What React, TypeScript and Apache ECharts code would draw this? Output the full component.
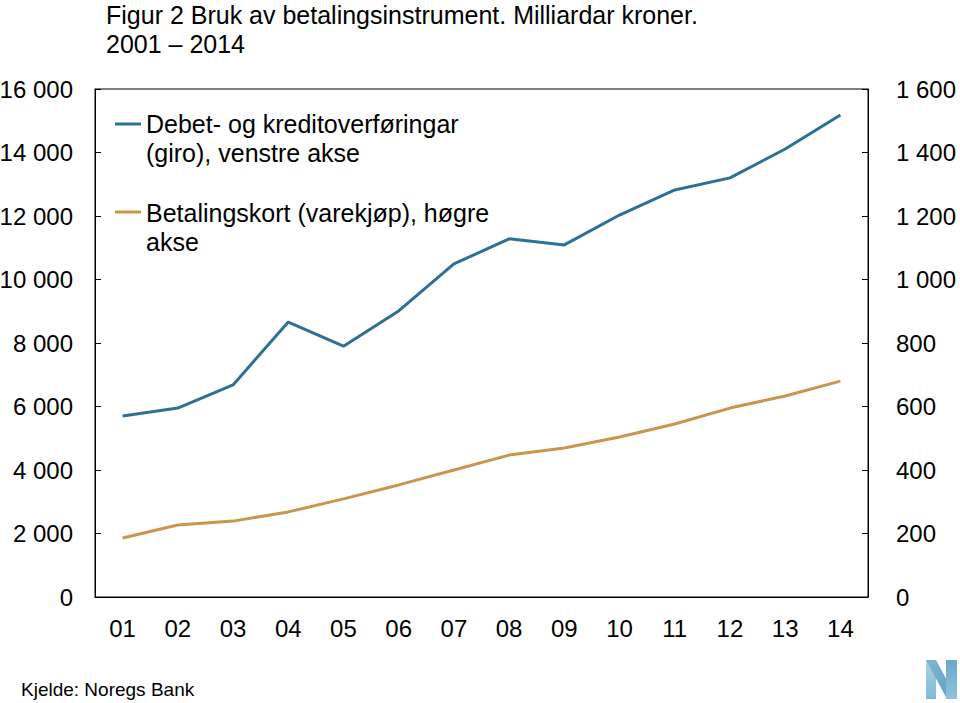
import React, { useEffect, useRef } from "react";
import * as echarts from "echarts";

const years = ["01", "02", "03", "04", "05", "06", "07", "08", "09", "10", "11", "12", "13", "14"];
const giro = [5700, 5950, 6680, 8660, 7900, 9010, 10490, 11280, 11090, 12030, 12820, 13200, 14110, 15180];
const kort = [186, 227, 239, 268, 309, 353, 400, 447, 469, 504, 545, 595, 633, 680];
const leftTicks = [0, 2000, 4000, 6000, 8000, 10000, 12000, 14000, 16000];
const rightTicks = [0, 200, 400, 600, 800, 1000, 1200, 1400, 1600];

const BLUE = "#2e6f95";
const ORANGE = "#c9954f";
const FONT = "'Liberation Sans', Arial, sans-serif";

const fmt = (v: number) => {
  const s = String(Math.round(v));
  return s.replace(/\B(?=(\d{3})+(?!\d))/g, " ");
};

export default function App() {
  const ref = useRef<HTMLDivElement>(null);
  useEffect(() => {
    if (!ref.current) return;
    const chart = echarts.init(ref.current, undefined, { renderer: "svg" });
    const axisLabel = { color: "#000", fontSize: 24, fontFamily: FONT };
    chart.setOption({
      animation: false,
      backgroundColor: "#fff",
      textStyle: { fontFamily: FONT },
      title: {
        text: "Figur 2 Bruk av betalingsinstrument. Milliardar kroner.\n2001 – 2014",
        left: 106,
        top: 0,
        padding: 0,
        textStyle: { fontSize: 25, fontWeight: "normal", color: "#000", lineHeight: 29, fontFamily: FONT },
      },
      grid: {
        left: 95,
        right: 92,
        top: 89,
        bottom: 106,
        outerBoundsMode: "none",
        containLabel: false,
        show: true,
        borderColor: "#000",
        borderWidth: 1,
        backgroundColor: "transparent",
      },
      xAxis: {
        type: "category",
        data: years,
        boundaryGap: true,
        axisLine: { lineStyle: { color: "#000", width: 1 } },
        axisTick: { inside: true, length: 6, lineStyle: { color: "#000" } },
        axisLabel: { ...axisLabel, margin: 19 },
        splitLine: { show: false },
      },
      yAxis: [
        {
          type: "value",
          min: leftTicks[0],
          max: leftTicks[leftTicks.length - 1],
          interval: 2000,
          axisLine: { show: true, lineStyle: { color: "#000" } },
          axisTick: { show: true, inside: true, length: 6, lineStyle: { color: "#000" } },
          axisLabel: { ...axisLabel, margin: 22, formatter: (v: number) => fmt(v) },
          splitLine: { show: false },
        },
        {
          type: "value",
          position: "right",
          min: rightTicks[0],
          max: rightTicks[rightTicks.length - 1],
          interval: 200,
          axisLine: { show: true, lineStyle: { color: "#000" } },
          axisTick: { show: true, inside: true, length: 6, lineStyle: { color: "#000" } },
          axisLabel: { ...axisLabel, margin: 28, formatter: (v: number) => fmt(v) },
          splitLine: { show: false },
        },
      ],
      series: [
        {
          name: "Debet- og kreditoverføringar (giro), venstre akse",
          type: "line",
          data: giro,
          yAxisIndex: 0,
          symbol: "none",
          lineStyle: { color: BLUE, width: 3 },
          itemStyle: { color: BLUE },
        },
        {
          name: "Betalingskort (varekjøp), høgre akse",
          type: "line",
          data: kort,
          yAxisIndex: 1,
          symbol: "none",
          lineStyle: { color: ORANGE, width: 3 },
          itemStyle: { color: ORANGE },
        },
      ],
      graphic: [
        { type: "line", shape: { x1: 115, y1: 124, x2: 141, y2: 124 }, style: { stroke: BLUE, lineWidth: 3 } },
        {
          type: "text",
          left: 146,
          top: 109,
          style: {
            text: "Debet- og kreditoverføringar\n(giro), venstre akse",
            fontSize: 25,
            lineHeight: 29,
            fill: "#000",
            fontFamily: FONT,
          },
        },
        { type: "line", shape: { x1: 115, y1: 212, x2: 141, y2: 212 }, style: { stroke: ORANGE, lineWidth: 3 } },
        {
          type: "text",
          left: 146,
          top: 198,
          style: {
            text: "Betalingskort (varekjøp), høgre\nakse",
            fontSize: 25,
            lineHeight: 29,
            fill: "#000",
            fontFamily: FONT,
          },
        },
        {
          type: "text",
          left: 21,
          top: 680,
          style: { text: "Kjelde: Noregs Bank", fontSize: 19, fill: "#000", fontFamily: FONT },
        },
        {
          type: "polygon",
          shape: { points: [[926, 660], [936, 660], [936, 699], [926, 699]] },
          style: {
            fill: new echarts.graphic.LinearGradient(0, 0, 0, 1, [
              { offset: 0, color: "#a9d2e6" },
              { offset: 1, color: "#7fb9d8" },
            ]),
          },
        },
        {
          type: "polygon",
          shape: { points: [[926, 660], [936, 660], [957, 699], [947, 699]] },
          style: {
            fill: new echarts.graphic.LinearGradient(0, 0, 1, 1, [
              { offset: 0, color: "#7fb6d4" },
              { offset: 1, color: "#5d9dc4" },
            ]),
          },
        },
        {
          type: "polygon",
          shape: { points: [[946, 660], [957, 660], [957, 699], [946, 699]] },
          style: {
            fill: new echarts.graphic.LinearGradient(0, 0, 0, 1, [
              { offset: 0, color: "#6aa7cc" },
              { offset: 1, color: "#8fc3de" },
            ]),
          },
        },
      ],
    });
    return () => chart.dispose();
  }, []);
  return (
    <div
      ref={ref}
      style={{ position: "absolute", left: 0, top: 0, width: 960, height: 703 }}
    />
  );
}
